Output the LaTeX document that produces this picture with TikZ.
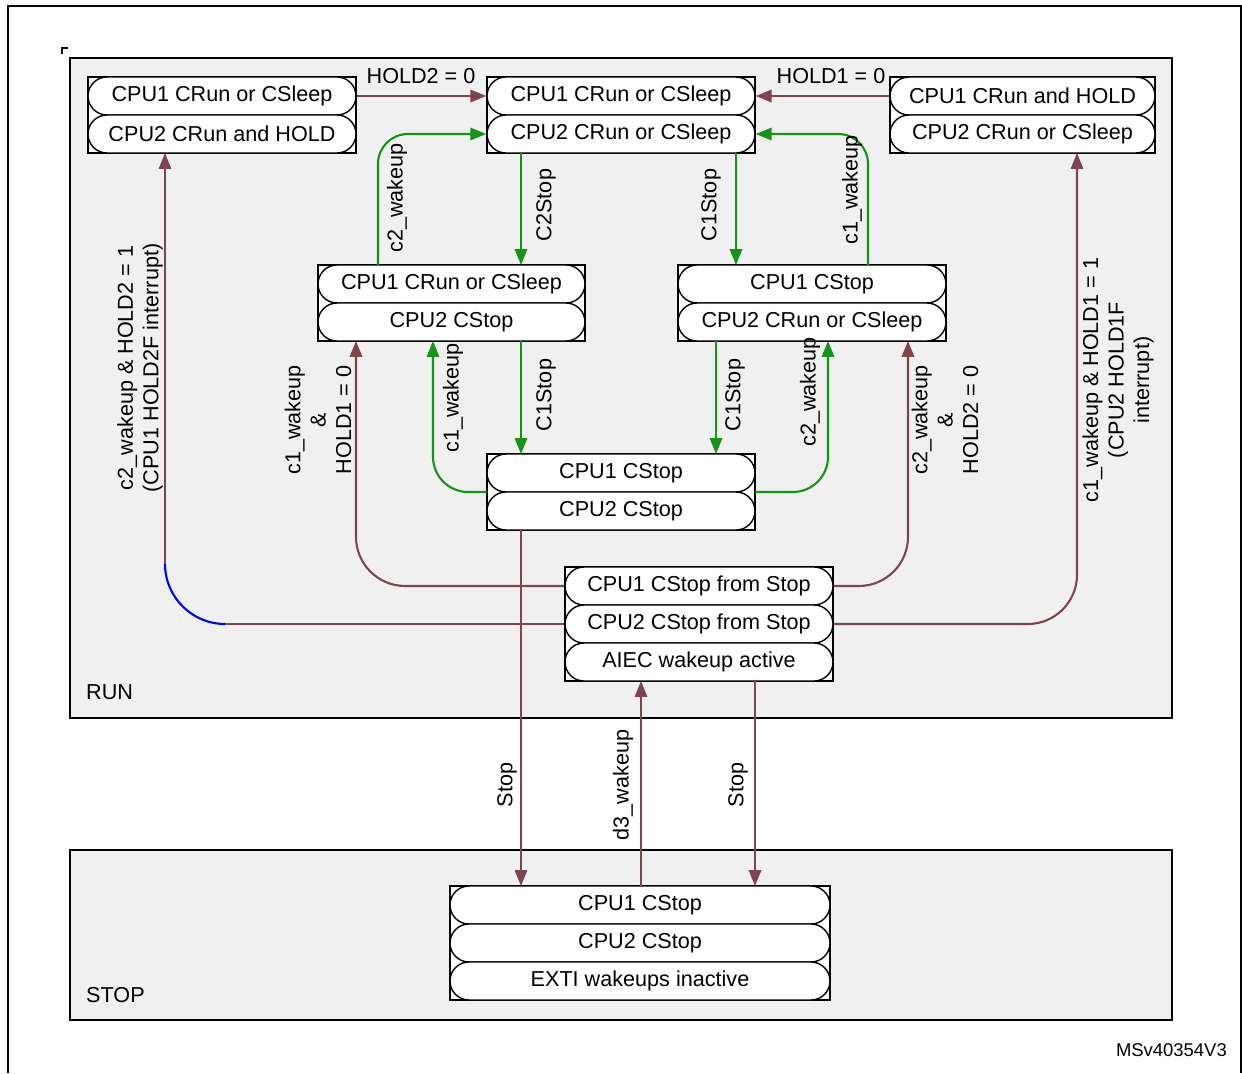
\documentclass[tikz,border=0pt]{standalone}
\usepackage{fontspec}
\setmainfont{Liberation Sans}
\usetikzlibrary{shapes.misc,arrows.meta}
\definecolor{br}{RGB}{128,68,76}
\definecolor{gr}{RGB}{20,150,20}
\definecolor{bg}{RGB}{240,240,240}
\newcommand\cel[5]{\node[cell,minimum width={(#3-#2)*0.02cm}] (#1) at ({(#2+#3)/2},#4) {#5};}
\newcommand\grp[4]{\draw[fill=white,line width=0.8pt] (#1,#2) rectangle (#3,#4);}
\begin{document}
\begin{tikzpicture}[x=0.02cm,y=-0.02cm,
  cell/.style={draw,fill=white,rounded rectangle,line width=0.8pt,minimum height=0.76cm,inner sep=0pt,font=\fontsize{12.3}{14.5}\selectfont},
  ab/.style={line width=1.2pt,br,-{Triangle[length=9pt,width=7pt]}},
  ag/.style={line width=1.2pt,gr,-{Triangle[length=9pt,width=7pt]}},
  lb/.style={font=\fontsize{12.3}{14.5}\selectfont,text=black,align=center},
  rl/.style={lb,rotate=90}]
\useasboundingbox (0,0) rectangle (1242,1073);
\draw[line width=0.8pt] (8,1073) -- (8,6) -- (1241,6) -- (1241,1073);
\draw[line width=0.6pt] (62,54) -- (62,48) -- (68,48);
\draw[fill=bg,line width=0.6pt] (70,58) rectangle (1172,718);
\draw[fill=bg,line width=0.6pt] (70,850) rectangle (1172,1020);
\node[lb,anchor=west] (run) at (80,692) {RUN};
\node[lb,anchor=west] (stp) at (80,995) {STOP};
\node[lb,anchor=east,font=\fontsize{10.5}{13}\selectfont] (ms) at (1233,1050) {MSv40354V3};
% groups
\grp{88}{77}{356}{153}
\cel{A1}{88}{356}{96}{CPU1 CRun or CSleep}
\cel{A2}{88}{356}{134}{CPU2 CRun and HOLD}
\grp{487}{77}{755}{153}
\cel{B1}{487}{755}{96}{CPU1 CRun or CSleep}
\cel{B2}{487}{755}{134}{CPU2 CRun or CSleep}
\grp{890}{77}{1155}{153}
\cel{C1}{890}{1155}{96}{CPU1 CRun and HOLD}
\cel{C2}{890}{1155}{134}{CPU2 CRun or CSleep}
\grp{318}{265}{585}{341}
\cel{D1}{318}{585}{284}{CPU1 CRun or CSleep}
\cel{D2}{318}{585}{322}{CPU2 CStop}
\grp{678}{265}{946}{341}
\cel{E1}{678}{946}{284}{CPU1 CStop}
\cel{E2}{678}{946}{322}{CPU2 CRun or CSleep}
\grp{487}{454}{755}{530}
\cel{F1}{487}{755}{473}{CPU1 CStop}
\cel{F2}{487}{755}{511}{CPU2 CStop}
% long brown lines behind G
\draw[ab] (521,530) -- (521,886) coordinate (h1);
\draw[ab,rounded corners=28pt] (565,586) -- (356,586) -- (356,341);
\draw[ab,rounded corners=28pt] (833,586) -- (908,586) -- (908,341);
\draw[br,line width=1.2pt] (565,624) -- (225,624);
\draw[blue,line width=1.2pt] (225,624) .. controls (192,624) and (165,597) .. (165,564);
\draw[ab] (165,564) -- (165,153);
\draw[ab,rounded corners=28pt] (833,624) -- (1077,624) -- (1077,153);
\grp{565}{567}{833}{681}
\cel{G1}{565}{833}{586}{CPU1 CStop from Stop}
\cel{G2}{565}{833}{624}{CPU2 CStop from Stop}
\cel{G3}{565}{833}{662}{AIEC wakeup active}
\grp{450}{886}{830}{1000}
\cel{H1}{450}{830}{905}{CPU1 CStop}
\cel{H2}{450}{830}{943}{CPU2 CStop}
\cel{H3}{450}{830}{981}{EXTI wakeups inactive}
% top arrows
\draw[ab] (A1.east) -- (B1.west);
\draw[ab] (C1.west) -- (B1.east);
\node[lb] (l1) at (421,76) {HOLD2 = 0};
\node[lb] (l2) at (831,76) {HOLD1 = 0};
% green
\draw[ag] (521,153) -- (521,265);
\draw[ag] (736,153) -- (736,265);
\draw[ag,rounded corners=17pt] (378,265) -- (378,134) -- (B2.west);
\draw[ag,rounded corners=17pt] (868,265) -- (868,134) -- (B2.east);
\draw[ag] (521,341) -- (521,454);
\draw[ag] (716,341) -- (716,454);
\draw[ag,rounded corners=20pt] (487,492) -- (433,492) -- (433,341);
\draw[ag,rounded corners=20pt] (755,492) -- (828,492) -- (828,341);
\node[rl] at (546,205) {C2Stop};
\node[rl] at (711,205) {C1Stop};
\node[rl] at (397,198) {c2\_wakeup};
\node[rl] at (852,190) {c1\_wakeup};
\node[rl] at (546,395) {C1Stop};
\node[rl] at (735,395) {C1Stop};
\node[rl] at (453,398) {c1\_wakeup};
\node[rl] at (810,392) {c2\_wakeup};
% brown labels
\node[rl] at (318,420) {c1\_wakeup\\\&\\HOLD1 = 0};
\node[rl] at (945,420) {c2\_wakeup\\\&\\HOLD2 = 0};
\node[rl] at (140,368) {c2\_wakeup \& HOLD2 = 1\\(CPU1 HOLD2F interrupt)};
\node[rl] at (1118,380) {c1\_wakeup \& HOLD1 = 1\\(CPU2 HOLD1F\\interrupt)};
% stop arrows
\draw[ab] (641,886) -- (641,681);
\draw[ab] (755,681) -- (755,886);
\node[rl] at (507,785) {Stop};
\node[rl] at (623,785) {d3\_wakeup};
\node[rl] at (738,785) {Stop};
\end{tikzpicture}
\end{document}
